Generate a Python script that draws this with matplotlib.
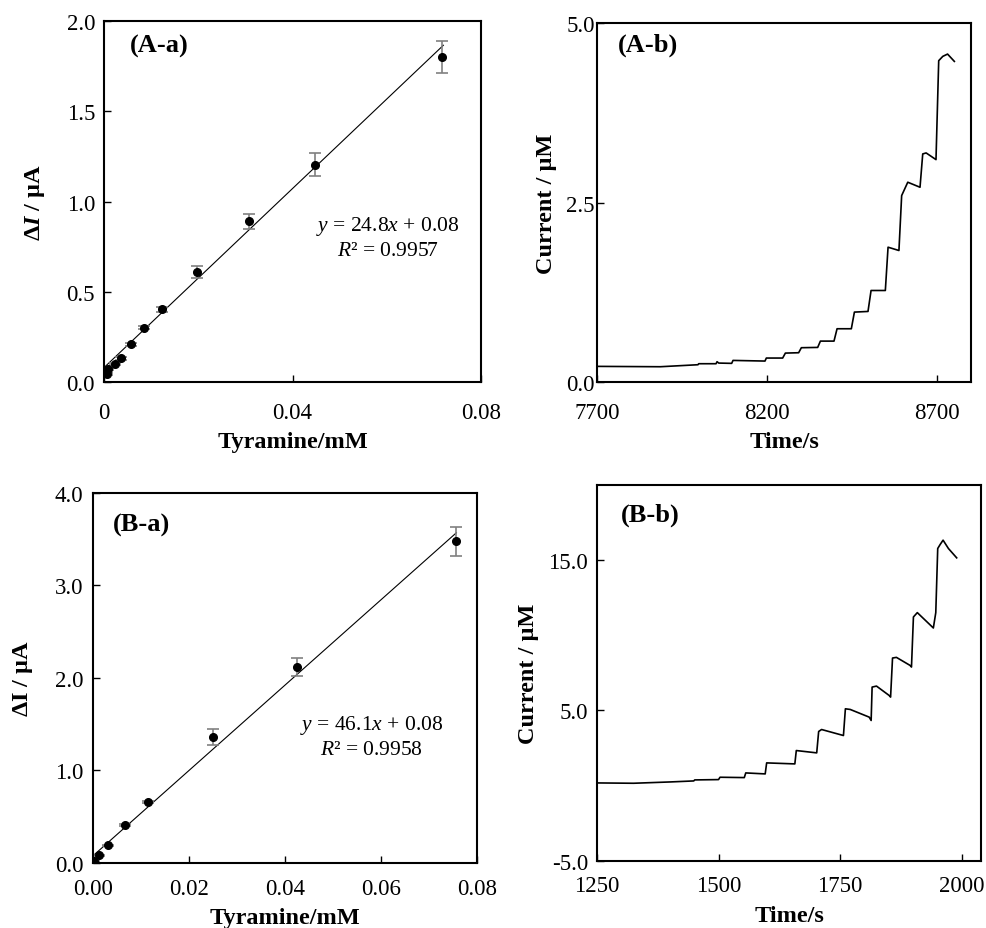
import matplotlib
matplotlib.use('Agg')
import matplotlib.pyplot as plt
import numpy as np

plt.rcParams['font.family'] = ['Liberation Serif', 'DejaVu Serif']
plt.rcParams['mathtext.fontset'] = 'custom'
plt.rcParams['mathtext.rm'] = 'Liberation Serif'
plt.rcParams['mathtext.it'] = 'Liberation Serif:italic'
plt.rcParams['mathtext.bf'] = 'Liberation Serif:bold'
plt.rcParams['mathtext.bfit'] = 'Liberation Serif:italic:bold'

# (A-a) calibration data
aa_conc = [0.0006, 0.0009, 0.0023, 0.0035, 0.0058, 0.0085, 0.0122, 0.0198, 0.0307, 0.0448, 0.0717]
aa_di = [0.043, 0.074, 0.098, 0.131, 0.209, 0.302, 0.403, 0.610, 0.890, 1.204, 1.799]
aa_err = [0.005, 0.005, 0.006, 0.007, 0.008, 0.010, 0.015, 0.033, 0.043, 0.063, 0.089]
aa_slope, aa_icpt = 24.8, 0.08

# (B-a) calibration data
ba_conc = [0.0002, 0.0012, 0.0031, 0.0066, 0.0114, 0.0249, 0.0424, 0.0757]
ba_di = [0.02, 0.081, 0.190, 0.406, 0.659, 1.363, 2.115, 3.48]
ba_err = [0.005, 0.006, 0.008, 0.010, 0.012, 0.087, 0.098, 0.157]
ba_slope, ba_icpt = 46.1, 0.08

# (A-b) amperometric trace
ab_time = [7700, 7886, 7997, 7999, 8050, 8053, 8058, 8096, 8100, 8194, 8198, 8246,
           8254, 8293, 8301, 8349, 8357, 8397, 8406, 8448, 8457, 8497, 8506, 8548,
           8556, 8588, 8596, 8614, 8650, 8658, 8668, 8697, 8705, 8717, 8731, 8751]
ab_cur = [0.218, 0.213, 0.241, 0.255, 0.255, 0.283, 0.264, 0.260, 0.301, 0.292, 0.334, 0.334,
          0.403, 0.408, 0.478, 0.482, 0.570, 0.570, 0.742, 0.742, 0.974, 0.983, 1.275, 1.275,
          1.878, 1.832, 2.597, 2.783, 2.713, 3.177, 3.191, 3.098, 4.476, 4.536, 4.568, 4.466]

# (B-b) amperometric trace
bb_time = [1250, 1325, 1401, 1449, 1451, 1500, 1503, 1553, 1556, 1596, 1599, 1657,
           1660, 1702, 1706, 1712, 1757, 1761, 1771, 1810, 1814, 1816, 1825, 1851,
           1854, 1858, 1866, 1894, 1897, 1901, 1909, 1942, 1947, 1951, 1956, 1962,
           1973, 1990]
bb_cur = [0.178, 0.156, 0.244, 0.311, 0.378, 0.400, 0.556, 0.533, 0.844, 0.778, 1.511, 1.444,
          2.333, 2.178, 3.600, 3.733, 3.333, 5.111, 5.067, 4.556, 4.333, 6.556, 6.622, 6.000,
          5.889, 8.489, 8.533, 8.000, 7.889, 11.222, 11.511, 10.489, 11.511, 15.778, 16.044, 16.333,
          15.778, 15.156]

fig = plt.figure(figsize=(9.87, 9.29), dpi=100)
ax_aa = fig.add_axes([0.1054, 0.5877, 0.382, 0.3886])
ax_ab = fig.add_axes([0.6049, 0.5877, 0.3789, 0.3864])
ax_ba = fig.add_axes([0.0945, 0.0700, 0.3888, 0.3983])
ax_bb = fig.add_axes([0.6049, 0.0724, 0.3890, 0.4044])

tick_fs = 16.5
lab_fs = 17.5
panel_fs = 19
ann_fs = 15.5


def style(ax, xpad, ypad, xlpad, ylpad):
    for s in ax.spines.values():
        s.set_linewidth(1.5)
    ax.tick_params(direction='in', length=5, width=1, labelsize=tick_fs)
    ax.tick_params(axis='x', pad=xpad)
    ax.tick_params(axis='y', pad=ypad)
    ax.xaxis.labelpad = xlpad
    ax.yaxis.labelpad = ylpad


def calib(ax, x, y, err, slope, icpt, xmax):
    xs = np.array([0, xmax])
    ax.plot(xs, slope * xs + icpt, color='black', lw=0.8)
    ax.errorbar(x, y, yerr=err, fmt='o', color='black', ms=5.5, ecolor='gray',
                elinewidth=1.2, capsize=4, capthick=1.2)


# (A-a)
calib(ax_aa, aa_conc, aa_di, aa_err, aa_slope, aa_icpt, 0.072)
ax_aa.set_xlim(0, 0.08)
ax_aa.set_ylim(0, 2.0)
ax_aa.set_xticks([0, 0.04, 0.08])
ax_aa.set_xticklabels(['0', '0.04', '0.08'])
ax_aa.set_yticks([0, 0.5, 1.0, 1.5, 2.0])
ax_aa.set_yticklabels(['0.0', '0.5', '1.0', '1.5', '2.0'])
ax_aa.set_xlabel('Tyramine/mM', fontsize=lab_fs, fontweight='bold')
ax_aa.set_ylabel(r'$\mathbf{\Delta}\mathbfit{I}$ / μA', fontsize=lab_fs, fontweight='bold')
ax_aa.text(0.0602, 0.867, r'$y$ = 24.8$x$ + 0.08', fontsize=ann_fs, ha='center', va='center')
ax_aa.text(0.0602, 0.728, r'$R$² = 0.9957', fontsize=ann_fs, ha='center', va='center')
ax_aa.text(0.069, 0.931, '(A-a)', transform=ax_aa.transAxes, fontsize=panel_fs,
           fontweight='bold', va='center')
style(ax_aa, 14.5, 6.5, 6, 14)

# (A-b)
ax_ab.plot(ab_time, ab_cur, color='black', lw=1.2)
ax_ab.set_xlim(7700, 8800)
ax_ab.set_ylim(0, 5.0)
ax_ab.set_xticks([7700, 8200, 8700])
ax_ab.set_yticks([0, 2.5, 5.0])
ax_ab.set_yticklabels(['0.0', '2.5', '5.0'])
ax_ab.set_xlabel('Time/s', fontsize=lab_fs, fontweight='bold')
ax_ab.set_ylabel('Current / μM', fontsize=lab_fs, fontweight='bold')
ax_ab.text(0.056, 0.941, '(A-b)', transform=ax_ab.transAxes, fontsize=panel_fs,
           fontweight='bold', va='center')
style(ax_ab, 14.5, 1.5, 6, 6.5)

# (B-a)
calib(ax_ba, ba_conc, ba_di, ba_err, ba_slope, ba_icpt, 0.0757)
ax_ba.set_xlim(0, 0.08)
ax_ba.set_ylim(0, 4.0)
ax_ba.set_xticks([0, 0.02, 0.04, 0.06, 0.08])
ax_ba.set_xticklabels(['0.00', '0.02', '0.04', '0.06', '0.08'])
ax_ba.set_yticks([0, 1, 2, 3, 4])
ax_ba.set_yticklabels(['0.0', '1.0', '2.0', '3.0', '4.0'])
ax_ba.set_xlabel('Tyramine/mM', fontsize=lab_fs, fontweight='bold')
ax_ba.set_ylabel(r'$\mathbf{\Delta}\mathbf{I}$ / μA', fontsize=lab_fs, fontweight='bold')
ax_ba.text(0.0581, 1.50, r'$y$ = 46.1$x$ + 0.08', fontsize=ann_fs, ha='center', va='center')
ax_ba.text(0.0581, 1.23, r'$R$² = 0.9958', fontsize=ann_fs, ha='center', va='center')
ax_ba.text(0.05, 0.916, '(B-a)', transform=ax_ba.transAxes, fontsize=panel_fs,
           fontweight='bold', va='center')
style(ax_ba, 10.5, 7, 6, 14)

# (B-b)
ax_bb.plot(bb_time, bb_cur, color='black', lw=1.2)
ax_bb.set_xlim(1250, 2040)
ax_bb.set_ylim(-5.0, 20.0)
ax_bb.set_xticks([1250, 1500, 1750, 2000])
ax_bb.set_yticks([-5, 5, 15])
ax_bb.set_yticklabels(['-5.0', '5.0', '15.0'])
ax_bb.set_xlabel('Time/s', fontsize=lab_fs, fontweight='bold')
ax_bb.set_ylabel('Current / μM', fontsize=lab_fs, fontweight='bold')
ax_bb.text(0.062, 0.923, '(B-b)', transform=ax_bb.transAxes, fontsize=panel_fs,
           fontweight='bold', va='center')
style(ax_bb, 10.5, 6.5, 6, 7)

fig.savefig('out.png', dpi=100)
